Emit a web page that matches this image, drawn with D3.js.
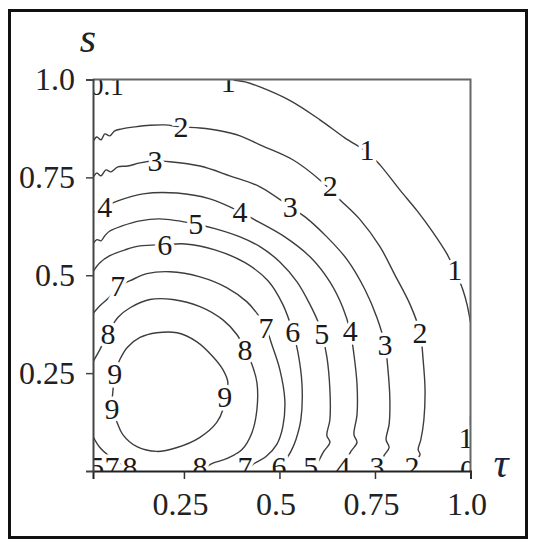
<!DOCTYPE html>
<html lang="en">
<head>
<meta charset="utf-8">
<title>Contour plot</title>
<script src="https://cdn.jsdelivr.net/npm/d3@7"></script>
<style>
  body { margin: 0; background: #fff; }
  text { font-family: "Times New Roman", "Liberation Serif", "DejaVu Serif", serif; }
</style>
</head>
<body>
<svg id="chart" width="535" height="550"></svg>
<script>
// tick values
const tauTicks = [0.25, 0.5, 0.75, 1.0];
const sTicks = [0.25, 0.5, 0.75, 1.0];

// contour lines, [tau, s]
const level1 = [[0.357,1.0],[0.410,0.994],[0.449,0.981],[0.528,0.946],[0.606,0.897],[0.671,0.851],
  [0.729,0.815],[0.763,0.782],[0.815,0.718],[0.860,0.665],[0.900,0.612],[0.938,0.555],[0.959,0.514],
  [0.980,0.463],[0.991,0.425],[1.0,0.379]];
const level1b = [[1.0,0.140],[1.0,0.085]];
const level2 = [[0.012,0.841],[0.022,0.853],[0.033,0.846],[0.043,0.861],[0.056,0.856],[0.069,0.869],
  [0.088,0.874],[0.122,0.879],[0.161,0.883],[0.200,0.884],[0.242,0.879],[0.292,0.876],[0.344,0.869],
  [0.397,0.856],[0.449,0.833],[0.535,0.795],[0.611,0.739],[0.658,0.693],[0.711,0.642],[0.763,0.573],
  [0.802,0.501],[0.842,0.425],[0.868,0.354],[0.876,0.284],[0.881,0.208],[0.878,0.131],[0.870,0.080],
  [0.863,0.055],[0.868,0.042],[0.855,0.024],[0.847,0.0]];
const level3 = [[0.012,0.749],[0.022,0.761],[0.033,0.754],[0.046,0.769],[0.059,0.764],[0.077,0.777],
  [0.103,0.779],[0.135,0.787],[0.174,0.792],[0.213,0.790],[0.292,0.779],[0.370,0.754],[0.449,0.726],
  [0.528,0.675],[0.567,0.649],[0.624,0.598],[0.677,0.540],[0.724,0.463],[0.755,0.392],[0.776,0.323],
  [0.784,0.259],[0.789,0.182],[0.787,0.119],[0.779,0.080],[0.787,0.060],[0.774,0.040],[0.763,0.019],
  [0.755,0.0]];
const level4 = [[0.012,0.660],[0.043,0.675],[0.077,0.690],[0.143,0.708],[0.232,0.710],[0.318,0.695],
  [0.397,0.662],[0.444,0.637],[0.514,0.598],[0.580,0.547],[0.632,0.483],[0.666,0.417],[0.685,0.358],
  [0.695,0.297],[0.703,0.221],[0.703,0.144],[0.695,0.093],[0.703,0.073],[0.687,0.050],[0.674,0.024],
  [0.666,0.0]];
const level5 = [[0.012,0.580],[0.022,0.591],[0.033,0.588],[0.043,0.601],[0.056,0.613],[0.088,0.626],
  [0.135,0.639],[0.187,0.644],[0.281,0.631],[0.331,0.619],[0.397,0.598],[0.449,0.573],[0.501,0.534],
  [0.546,0.483],[0.580,0.425],[0.601,0.381],[0.611,0.351],[0.624,0.292],[0.632,0.208],[0.632,0.131],
  [0.624,0.091],[0.632,0.073],[0.616,0.050],[0.601,0.022],[0.590,0.0]];
const level6 = [[0.012,0.509],[0.030,0.532],[0.056,0.550],[0.096,0.565],[0.135,0.575],[0.200,0.578],
  [0.253,0.580],[0.331,0.565],[0.410,0.532],[0.470,0.486],[0.509,0.425],[0.535,0.356],[0.548,0.305],
  [0.559,0.221],[0.556,0.131],[0.543,0.080],[0.530,0.050],[0.514,0.024],[0.501,0.0]];
const level7 = [[0.012,0.402],[0.030,0.422],[0.056,0.445],[0.077,0.471],[0.109,0.486],[0.153,0.504],
  [0.213,0.509],[0.292,0.496],[0.363,0.468],[0.415,0.432],[0.444,0.399],[0.465,0.366],[0.480,0.323],
  [0.501,0.259],[0.514,0.182],[0.509,0.114],[0.493,0.068],[0.465,0.037],[0.431,0.017],[0.410,0.0]];
const level8 = [[0.012,0.279],[0.030,0.310],[0.051,0.351],[0.077,0.392],[0.109,0.417],[0.161,0.438],
  [0.221,0.438],[0.292,0.420],[0.352,0.386],[0.389,0.348],[0.410,0.310],[0.428,0.272],[0.441,0.226],
  [0.441,0.157],[0.428,0.098],[0.402,0.055],[0.363,0.032],[0.323,0.019],[0.292,0.0]];
const level8b = [[0.012,0.088],[0.030,0.060],[0.056,0.037],[0.088,0.017],[0.109,0.0]];
const level9 = [[0.069,0.249],[0.082,0.284],[0.101,0.315],[0.135,0.341],[0.179,0.353],[0.232,0.353],
  [0.284,0.330],[0.326,0.292],[0.352,0.259],[0.365,0.226],[0.357,0.191],[0.352,0.157],[0.336,0.124],
  [0.292,0.086],[0.232,0.060],[0.179,0.050],[0.127,0.062],[0.090,0.093],[0.075,0.124],[0.062,0.159],
  [0.064,0.203],[0.069,0.249]];

const contourLines = [level1, level1b, level2, level3, level4, level5, level6, level7, level8, level8b, level9];

// contour labels: [text, tau, s]
const contourLabels = [
  ["1",0.366,0.994],["1",0.729,0.820],["1",0.959,0.514],["1",0.988,0.085],["0",0.992,0.004],
  ["2",0.242,0.879],["2",0.633,0.728],["2",0.868,0.353],["2",0.847,0.012],
  ["3",0.174,0.792],["3",0.528,0.675],["3",0.776,0.323],["3",0.755,0.012],
  ["4",0.043,0.675],["4",0.397,0.662],["4",0.685,0.358],["4",0.666,0.012],
  ["5",0.281,0.631],["5",0.611,0.351],["5",0.582,0.012],["5",0.022,0.012],
  ["6",0.200,0.578],["6",0.535,0.356],["6",0.499,0.012],
  ["7",0.077,0.473],["7",0.465,0.366],["7",0.410,0.012],["7",0.062,0.012],
  ["8",0.051,0.351],["8",0.410,0.310],["8",0.292,0.012],["8",0.109,0.012],
  ["9",0.069,0.249],["9",0.062,0.159],["9",0.357,0.190],
  ["0.1",0.048,0.985]
];

const svg = d3.select("#chart");

// outer frame
svg.append("rect")
  .attr("x", 9.5).attr("y", 10.5)
  .attr("width", 517).attr("height", 527)
  .attr("fill", "none").attr("stroke", "#111").attr("stroke-width", 3);

const x = d3.scaleLinear().domain([0.012, 1]).range([93, 470.5]);
const y = d3.scaleLinear().domain([0, 1]).range([471, 79.5]);

svg.append("clipPath").attr("id", "plotclip")
  .append("rect")
  .attr("x", x(0.012)).attr("y", y(1))
  .attr("width", x(1) - x(0.012)).attr("height", y(0) - y(1));

const plot = svg.append("g").attr("clip-path", "url(#plotclip)");

const line = d3.line()
  .x(d => x(d[0]))
  .y(d => y(d[1]))
  .curve(d3.curveCatmullRom.alpha(0.5));

plot.selectAll("path.contour")
  .data(contourLines)
  .join("path")
  .attr("class", "contour")
  .attr("d", line)
  .attr("fill", "none")
  .attr("stroke", "#3d3d3d")
  .attr("stroke-width", 1.4);

plot.selectAll("text.clabel")
  .data(contourLabels)
  .join("text")
  .attr("class", "clabel")
  .attr("x", d => x(d[1]))
  .attr("y", d => y(d[2]))
  .attr("dy", "0.34em")
  .attr("text-anchor", "middle")
  .attr("font-size", d => d[0] === "0.1" ? 27 : 30)
  .attr("fill", "#1a1a1a")
  .attr("stroke", "#fff")
  .attr("stroke-width", 7)
  .attr("paint-order", "stroke")
  .text(d => d[0]);

// top and right edges of the box
svg.append("path")
  .attr("d", `M${x(0.012)},${y(1)}H${x(1)}V${y(0)}`)
  .attr("fill", "none").attr("stroke", "#666").attr("stroke-width", 2);

// axes
const xAxis = svg.append("g")
  .attr("transform", `translate(0,${y(0)})`)
  .call(d3.axisBottom(x).tickValues(tauTicks).tickSize(8).tickPadding(13)
    .tickFormat(d => d === 1 ? "1.0" : String(d)));
xAxis.attr("font-family", null);
xAxis.select(".domain").attr("stroke", "#222").attr("stroke-width", 2);
xAxis.selectAll(".tick line").attr("stroke", "#333").attr("stroke-width", 1.5);
xAxis.selectAll(".tick text")
  .attr("font-size", 32).attr("fill", "#222").attr("dx", -4);

const yAxis = svg.append("g")
  .attr("transform", `translate(${x(0.012)},0)`)
  .call(d3.axisLeft(y).tickValues(sTicks).tickSize(7).tickPadding(11)
    .tickFormat(d => d === 1 ? "1.0" : String(d)));
yAxis.attr("font-family", null);
yAxis.select(".domain").attr("stroke", "#444").attr("stroke-width", 2);
yAxis.selectAll(".tick line").attr("stroke", "#444").attr("stroke-width", 1.5);
yAxis.selectAll(".tick text")
  .attr("font-size", 32).attr("fill", "#222");

// axis titles
svg.append("text")
  .attr("x", 88).attr("y", 52)
  .attr("text-anchor", "middle")
  .attr("font-size", 42).attr("font-style", "italic")
  .attr("fill", "#222")
  .text("s");

svg.append("text")
  .attr("x", 501).attr("y", 477)
  .attr("text-anchor", "middle")
  .attr("font-size", 42).attr("font-style", "italic")
  .attr("fill", "#1c2340")
  .text("τ");
</script>
</body>
</html>
